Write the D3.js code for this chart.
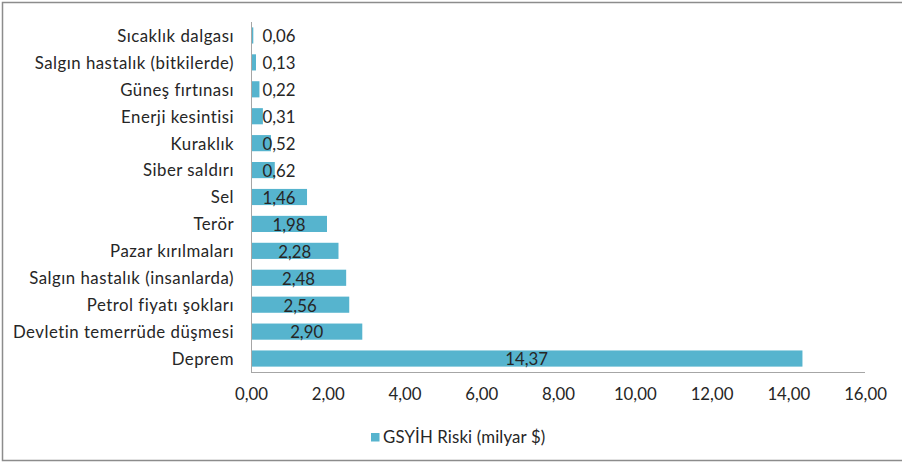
<!DOCTYPE html>
<html>
<head>
<meta charset="utf-8">
<script src="https://cdn.jsdelivr.net/npm/d3@7"></script>
<style>
  html, body { margin: 0; padding: 0; background: #fff; }
  svg { display: block; }
  text { font-family: Lato, "Open Sans", sans-serif; fill: #262626; }
</style>
</head>
<body>
<svg id="chart" width="902" height="464"></svg>
<script>
// Risk categories, top to bottom
const categories = [
  "Sıcaklık dalgası",
  "Salgın hastalık (bitkilerde)",
  "Güneş fırtınası",
  "Enerji kesintisi",
  "Kuraklık",
  "Siber saldırı",
  "Sel",
  "Terör",
  "Pazar kırılmaları",
  "Salgın hastalık (insanlarda)",
  "Petrol fiyatı şokları",
  "Devletin temerrüde düşmesi",
  "Deprem"
];
// GDP at risk, billion $
const values = [0.06, 0.13, 0.22, 0.31, 0.52, 0.62, 1.46, 1.98, 2.28, 2.48, 2.56, 2.90, 14.37];
const xTicks = [0, 2, 4, 6, 8, 10, 12, 14, 16];
const seriesName = "GSYİH Riski (milyar $)";

const svg = d3.select("#chart");
const W = 902, H = 464;
const plot = { left: 251, right: 865, top: 22, bottom: 372 };
const barColor = "#56B4CE";
const fontSize = "16.8px";

const fmt = v => v.toFixed(2).replace(".", ",");

// outer frame (left, top, bottom edges)
svg.append("path")
  .attr("d", `M${W},2.5 H2.5 V460.5 H${W}`)
  .attr("fill", "none")
  .attr("stroke", "#8c8c8c")
  .attr("stroke-width", 1.5);

const x = d3.scaleLinear().domain([0, 16]).range([plot.left, plot.right]);
const y = d3.scaleBand().domain(categories).range([plot.top, plot.bottom]).paddingInner(0.4).paddingOuter(0.2);

// bars
svg.append("g").selectAll("rect")
  .data(values)
  .join("rect")
  .attr("x", x(0))
  .attr("y", (d, i) => y(categories[i]))
  .attr("width", d => x(d) - x(0))
  .attr("height", y.bandwidth())
  .attr("fill", barColor);

// axes lines
svg.append("line")
  .attr("x1", plot.left + 0.5).attr("x2", plot.left + 0.5)
  .attr("y1", plot.top).attr("y2", plot.bottom)
  .attr("stroke", "#a6a6a6");
svg.append("line")
  .attr("x1", plot.left).attr("x2", plot.right)
  .attr("y1", plot.bottom + 0.5).attr("y2", plot.bottom + 0.5)
  .attr("stroke", "#a6a6a6");

// category labels
const yAxis = d3.axisLeft(y).tickSize(0).tickPadding(17);
const gy = svg.append("g").attr("transform", `translate(${plot.left},1)`).call(yAxis);
gy.select(".domain").remove();
gy.selectAll("text")
  .style("font-size", fontSize)
  .style("font-family", "Lato")
  .style("letter-spacing", "0.5px")
  .attr("fill", "#262626");

// x tick labels
const xAxis = d3.axisBottom(x).tickValues(xTicks).tickFormat(fmt).tickSize(0).tickPadding(16);
const gx = svg.append("g").attr("transform", `translate(0,${plot.bottom})`).call(xAxis);
gx.select(".domain").remove();
gx.selectAll("text").style("font-size", fontSize).style("font-family", "Lato").attr("fill", "#262626");

// value labels, centred on each bar
svg.append("g").selectAll("text")
  .data(values)
  .join("text")
  .attr("x", d => Math.max((x(0) + x(d)) / 2, x(0) + 28))
  .attr("y", (d, i) => y(categories[i]) + y.bandwidth() / 2 + 1)
  .attr("dy", "0.35em")
  .attr("text-anchor", "middle")
  .style("font-size", fontSize)
  .text(fmt);

// legend
const lg = svg.append("g").attr("transform", "translate(371,433)");
lg.append("rect").attr("width", 8.5).attr("height", 8.5).attr("fill", barColor);
lg.append("text").attr("x", 12).attr("y", 4.5).attr("dy", "0.35em")
  .style("font-size", fontSize).style("letter-spacing", "0.15px").text(seriesName);
</script>
</body>
</html>
